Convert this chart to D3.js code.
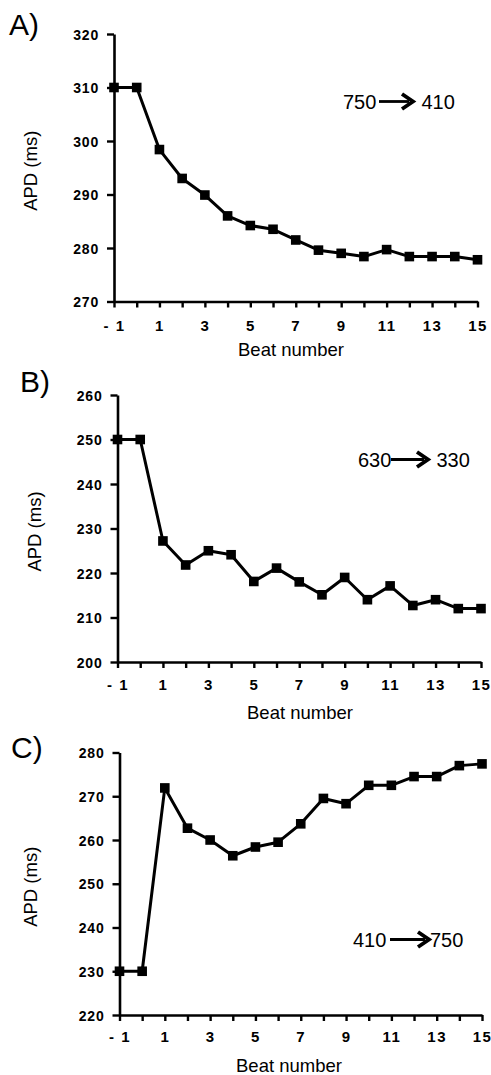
<!DOCTYPE html>
<html>
<head>
<meta charset="utf-8">
<script src="https://cdn.jsdelivr.net/npm/d3@7"></script>
<style>
  body { margin: 0; background: #fff; }
  svg { display: block; font-family: "Liberation Sans", Arial, sans-serif; }
</style>
</head>
<body>
<svg id="chart" width="491" height="1075"></svg>
<script>
// beat numbers (x) shared by all three panels
const beats = [-1, 0, 1, 2, 3, 4, 5, 6, 7, 8, 9, 10, 11, 12, 13, 14, 15];
const xTickLabels = [-1, 1, 3, 5, 7, 9, 11, 13, 15];

// APD values (ms)
const apdA = [310, 310, 298.4, 293, 289.9, 286, 284.2, 283.5, 281.5, 279.6, 279, 278.4, 279.7, 278.4, 278.4, 278.4, 277.8];
const apdB = [250, 250, 227.2, 221.8, 225, 224.1, 218.1, 221.1, 218, 215.1, 219, 214, 217.1, 212.7, 214, 212, 212];
const apdC = [230, 230, 271.9, 262.7, 260, 256.4, 258.4, 259.5, 263.7, 269.5, 268.3, 272.5, 272.5, 274.5, 274.5, 277, 277.4];

const yTicksA = [270, 280, 290, 300, 310, 320];
const yTicksB = [200, 210, 220, 230, 240, 250, 260];
const yTicksC = [220, 230, 240, 250, 260, 270, 280];

const svg = d3.select("#chart");

// layout of each panel (pixel boxes)
const panels = [
  { tag: "A)", values: apdA, yTicks: yTicksA, from: "750", to: "410",
    left: 114, right: 477.5, top: 34, bottom: 301.5,
    tagX: 9, tagY: 35, ylabX: 37, tickY: 331, titleX: 291, titleY: 356,
    note: { x: 343, y: 108.5, a0: 379, a1: 413, x2: 421.5 } },
  { tag: "B)", values: apdB, yTicks: yTicksB, from: "630", to: "330",
    left: 117.5, right: 481, top: 395, bottom: 662,
    tagX: 20, tagY: 392, ylabX: 41, tickY: 690, titleX: 300, titleY: 719,
    note: { x: 358, y: 466.5, a0: 391, a1: 428, x2: 436.5 } },
  { tag: "C)", values: apdC, yTicks: yTicksC, from: "410", to: "750",
    left: 119.5, right: 482, top: 752.5, bottom: 1015,
    tagX: 11, tagY: 758, ylabX: 37, tickY: 1042, titleX: 289, titleY: 1072,
    note: { x: 353, y: 946.5, a0: 390, a1: 429, x2: 430 } }
];

panels.forEach(drawPanel);

function drawPanel(p) {
  const x = d3.scaleLinear().domain([-1, 15]).range([p.left, p.right]);
  const y = d3.scaleLinear()
    .domain([p.yTicks[0], p.yTicks[p.yTicks.length - 1]])
    .range([p.bottom, p.top]);

  const g = svg.append("g");

  // y axis
  const yAxis = g.append("g")
    .attr("transform", `translate(${p.left},0)`)
    .call(d3.axisLeft(y).tickValues(p.yTicks).tickSize(7).tickSizeOuter(0).tickPadding(8));
  yAxis.select(".domain").attr("stroke-width", 2.6);
  yAxis.selectAll(".tick line").attr("stroke-width", 2.4);
  yAxis.selectAll(".tick text")
    .attr("font-size", 14).attr("font-weight", "bold")
    .attr("font-family", "Liberation Sans, Arial, sans-serif")
    .style("letter-spacing", "0.8px")
    .attr("dy", "0.36em");

  // x axis
  const xAxis = g.append("g")
    .attr("transform", `translate(0,${p.bottom})`)
    .call(d3.axisBottom(x).tickValues(beats).tickSize(6).tickSizeOuter(0)
      .tickFormat(d => xTickLabels.includes(d) ? d : ""));
  xAxis.select(".domain").attr("stroke-width", 2.6);
  xAxis.selectAll(".tick line").attr("stroke-width", 2.4);
  xAxis.selectAll(".tick text")
    .attr("font-size", 15).attr("font-weight", "bold")
    .attr("font-family", "Liberation Sans, Arial, sans-serif")
    .style("letter-spacing", "1.5px")
    .attr("y", p.tickY - p.bottom).attr("dy", 0)
    .text(d => d === -1 ? "- 1" : (xTickLabels.includes(d) ? d : ""));

  // axis titles
  g.append("text")
    .attr("x", p.titleX).attr("y", p.titleY)
    .attr("text-anchor", "middle")
    .attr("font-size", 18.5)
    .text("Beat number");

  g.append("text")
    .attr("transform", `translate(${p.ylabX},${(p.top + p.bottom) / 2 + 3}) rotate(-90)`)
    .attr("text-anchor", "middle")
    .attr("font-size", 18.5)
    .text("APD (ms)");

  // panel tag
  g.append("text")
    .attr("x", p.tagX).attr("y", p.tagY)
    .attr("font-size", 30)
    .text(p.tag);

  // data line and square markers
  const pts = beats.map((b, i) => [b, p.values[i]]);
  g.append("path")
    .datum(pts)
    .attr("fill", "none")
    .attr("stroke", "#000")
    .attr("stroke-width", 3)
    .attr("stroke-linejoin", "round")
    .attr("d", d3.line().x(d => x(d[0])).y(d => y(d[1])));

  g.selectAll("rect.pt")
    .data(pts)
    .enter().append("rect")
    .attr("class", "pt")
    .attr("x", d => x(d[0]) - 4.8)
    .attr("y", d => y(d[1]) - 4.8)
    .attr("width", 9.6)
    .attr("height", 9.6)
    .attr("fill", "#000");

  // cycle length change note: "750 -> 410"
  const n = p.note;
  g.append("text").attr("x", n.x).attr("y", n.y).attr("font-size", 20).text(p.from);
  g.append("text").attr("x", n.x2).attr("y", n.y).attr("font-size", 20).text(p.to);
  const ay = n.y - 7;
  g.append("line")
    .attr("x1", n.a0).attr("x2", n.a1 - 4)
    .attr("y1", ay).attr("y2", ay)
    .attr("stroke", "#000").attr("stroke-width", 2.8);
  g.append("path")
    .attr("d", `M${n.a1 - 11},${ay - 7.5} L${n.a1},${ay} L${n.a1 - 11},${ay + 7.5}`)
    .attr("fill", "none")
    .attr("stroke", "#000")
    .attr("stroke-width", 3.8)
    .attr("stroke-linejoin", "miter");
}
</script>
</body>
</html>
